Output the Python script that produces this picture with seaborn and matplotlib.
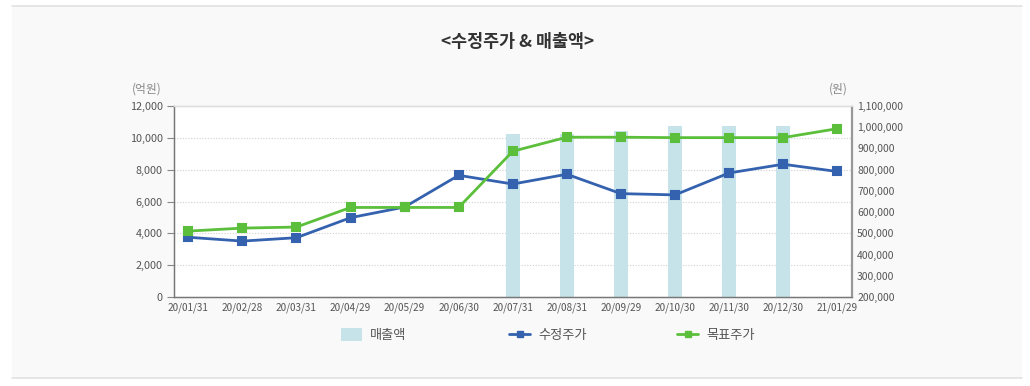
import matplotlib
matplotlib.use("Agg")
import matplotlib.pyplot as plt
import seaborn as sns
import numpy as np
import pandas as pd
from matplotlib.patches import Rectangle, Patch
from matplotlib.lines import Line2D
from matplotlib.ticker import FuncFormatter

# ---- data ----
dates = ["20/01/31", "20/02/28", "20/03/31", "20/04/29", "20/05/29", "20/06/30",
         "20/07/31", "20/08/31", "20/09/29", "20/10/30", "20/11/30", "20/12/30", "21/01/29"]
sales = [np.nan, np.nan, np.nan, np.nan, np.nan, np.nan,
         10200, 10200, 10400, 10750, 10750, 10750, np.nan]          # 매출액 (억원)
adj_price = [482000, 464000, 480000, 574000, 624000, 773000,
             732000, 778000, 687000, 681000, 784000, 825000, 791000]  # 수정주가 (원)
target_price = [511000, 525000, 530000, 622000, 622000, 622000,
                886000, 952000, 952000, 950000, 950000, 950000, 992000]  # 목표주가 (원)
left_ticks = [0, 2000, 4000, 6000, 8000, 10000, 12000]
right_ticks = [200000, 300000, 400000, 500000, 600000, 700000, 800000, 900000, 1000000, 1100000]

title = "<수정주가 & 매출액>"
names = ["매출액", "수정주가", "목표주가"]

sns.set_theme(style="white")
plt.rcParams['font.family'] = ['Noto Sans CJK KR', 'DejaVu Sans']

BAR_C = "#c7e3ea"
BLUE = "#3462ae"
GREEN = "#5cbf3b"
TXT = "#555555"

fig = plt.figure(figsize=(10.30, 3.86), dpi=100, facecolor="white")

# panel background
fig.patches.append(Rectangle((12/1030, 8/386), 1010/1030, 372/386, transform=fig.transFigure,
                             facecolor="#f9f9f9", edgecolor="none", zorder=-10))
fig.lines.append(Line2D([12/1030, 1022/1030], [380/386, 380/386], transform=fig.transFigure,
                        color="#e2e2e2", lw=1.2))
fig.lines.append(Line2D([12/1030, 1022/1030], [8/386, 8/386], transform=fig.transFigure,
                        color="#e2e2e2", lw=1.2))

ax = fig.add_axes([174/1030, 1 - 297.3/386, (851.5 - 174)/1030, (297.3 - 105.7)/386])
ax.set_facecolor("white")

df = pd.DataFrame({"date": dates, "sales": sales, "adj": adj_price, "target": target_price})

sns.barplot(data=df, x="date", y="sales", color=BAR_C, width=0.26, ax=ax,
            saturation=1, edgecolor="none", zorder=2)
ax.set_ylim(0, 12000)
ax.set_yticks(left_ticks)
ax.yaxis.set_major_formatter(FuncFormatter(lambda v, p: f"{int(v):,}"))
ax.grid(axis="y", linestyle=(0, (1, 1.5)), color="#cfcfcf", lw=0.8, zorder=0)
ax.set_axisbelow(True)

ax2 = ax.twinx()
sns.pointplot(data=df, x="date", y="target", color=GREEN, markers="s", linestyles="-",
              ax=ax2, markersize=6, linewidth=2, zorder=4)
sns.pointplot(data=df, x="date", y="adj", color=BLUE, markers="s", linestyles="-",
              ax=ax2, markersize=6, linewidth=2, zorder=3)
ax2.set_ylim(200000, 1100000)
ax2.set_yticks(right_ticks)
ax2.yaxis.set_major_formatter(FuncFormatter(lambda v, p: f"{int(v):,}"))
ax2.grid(False)

for a in (ax, ax2):
    a.set_xlim(-0.265, 12.265)
    a.set_xlabel("")
    a.set_ylabel("")

ax.tick_params(axis="y", labelsize=7.8, colors=TXT, length=5, width=0.8, color="#888888", pad=3)
ax.tick_params(axis="x", labelsize=7.2, colors=TXT, length=0, pad=4)
ax2.tick_params(axis="y", labelsize=7.5, colors=TXT, length=0, pad=4)

for a in (ax, ax2):
    for s in a.spines.values():
        s.set_visible(True)
    a.spines["left"].set_color("#777777")
    a.spines["bottom"].set_color("#777777")
    a.spines["right"].set_color("#999999")
    a.spines["top"].set_color("#dddddd")
    for s in a.spines.values():
        s.set_linewidth(0.9)

fig.text(518/1030, 1 - 42/386, title, ha="center", va="center", fontsize=12.5,
         fontweight="bold", color="#333333")
fig.text(147/1030, 1 - 89/386, "(억원)", ha="center", va="center", fontsize=8.5, color="#888888")
fig.text(838/1030, 1 - 89/386, "(원)", ha="center", va="center", fontsize=8.5, color="#888888")

handles = [Patch(facecolor=BAR_C, edgecolor="none"),
           Line2D([], [], color=BLUE, lw=2, marker="s", markersize=5),
           Line2D([], [], color=GREEN, lw=2, marker="s", markersize=5)]
for h, n, xs in zip(handles, names, [341, 509, 677]):
    fig.legend([h], [n], loc="center left", bbox_to_anchor=(xs/1030, 1 - 335/386),
               frameon=False, fontsize=9.5, handlelength=1.6, handleheight=1.2,
               handletextpad=0.6, labelcolor="#555555", borderpad=0, borderaxespad=0)

fig.savefig("out.png", dpi=100, facecolor="white")
